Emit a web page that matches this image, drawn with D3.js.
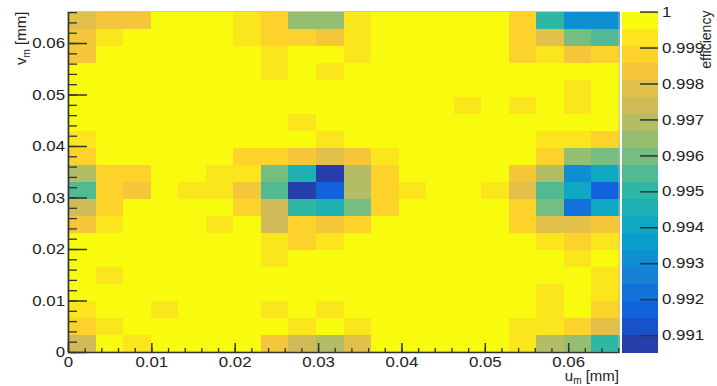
<!DOCTYPE html>
<html>
<head>
<meta charset="utf-8">
<script src="https://cdn.jsdelivr.net/npm/d3@7"></script>
<style>
  body { margin: 0; background: #fff; }
  svg { display: block; font-family: "Liberation Sans", Arial, sans-serif; }
  .tick text { fill: #222; }
  .tick line, .domain { stroke: #333; }
</style>
</head>
<body>
<svg id="chart" width="717" height="386"></svg>
<script>
// axis ranges (mm) and z range of the colour scale
const uRange = [0, 0.0661]
const vRange = [0, 0.0661]
const zRange = [0.99053, 1.0]

const uTicks = [0, 0.01, 0.02, 0.03, 0.04, 0.05, 0.06]
const vTicks = [0, 0.01, 0.02, 0.03, 0.04, 0.05, 0.06]
const zTicks = [0.991, 0.992, 0.993, 0.994, 0.995, 0.996, 0.997, 0.998, 0.999, 1]

const uTitle = "u"
const vTitle = "v"
const zTitle = "efficiency"

// efficiency per bin, top row (highest v) first, u increasing left to right
const efficiency = [
  [0.9978, 0.9985, 0.9985, 1, 1, 1, 0.9993, 0.9988, 0.9965, 0.9965, 0.9993, 1, 1, 1, 1, 1, 0.9988, 0.9950, 0.9932, 0.9932],
  [0.9985, 0.9993, 1, 1, 1, 1, 0.9993, 0.9988, 0.9988, 0.9984, 0.9993, 1, 1, 1, 1, 1, 0.9988, 0.9978, 0.9960, 0.9955],
  [0.9985, 1, 1, 1, 1, 1, 1, 0.9993, 1, 1, 0.9993, 1, 1, 1, 1, 1, 0.9988, 0.9992, 0.9984, 0.9987],
  [1, 1, 1, 1, 1, 1, 1, 0.9993, 1, 0.9993, 1, 1, 1, 1, 1, 1, 1, 1, 1, 1],
  [1, 1, 1, 1, 1, 1, 1, 1, 1, 1, 1, 1, 1, 1, 1, 1, 1, 1, 0.9993, 1],
  [1, 1, 1, 1, 1, 1, 1, 1, 1, 1, 1, 1, 1, 1, 0.9993, 1, 0.9993, 1, 0.9993, 1],
  [1, 1, 1, 1, 1, 1, 1, 1, 0.9993, 1, 1, 1, 1, 1, 1, 1, 1, 1, 1, 1],
  [0.9993, 1, 1, 1, 1, 1, 1, 1, 1, 0.9993, 1, 1, 1, 1, 1, 1, 1, 0.9993, 0.9993, 0.9987],
  [0.9988, 1, 1, 1, 1, 1, 0.9988, 0.9988, 0.9985, 0.9979, 0.9985, 0.9992, 1, 1, 1, 1, 1, 0.9988, 0.9965, 0.9960],
  [0.9969, 0.9989, 0.9989, 1, 1, 0.9993, 0.9993, 0.9958, 0.9946, 0.9906, 0.9970, 0.9988, 1, 1, 1, 1, 0.9985, 0.9971, 0.9930, 0.9941],
  [0.9955, 0.9988, 0.9985, 1, 0.9993, 0.9993, 0.9985, 0.9956, 0.9906, 0.9919, 0.9969, 0.9986, 0.9992, 1, 1, 0.9992, 0.9979, 0.9956, 0.9941, 0.9919],
  [0.9975, 0.9988, 1, 1, 1, 1, 0.9986, 0.9975, 0.9949, 0.9946, 0.9960, 0.9986, 1, 1, 1, 1, 0.9987, 0.9960, 0.9923, 0.9941],
  [0.9985, 0.9991, 1, 1, 1, 0.9993, 1, 0.9975, 0.9987, 0.9982, 0.9987, 1, 1, 1, 1, 1, 0.9988, 0.9979, 0.9979, 0.9984],
  [1, 1, 1, 1, 1, 1, 1, 0.9992, 0.9987, 0.9992, 1, 1, 1, 1, 1, 1, 1, 0.9992, 0.9987, 0.9992],
  [1, 1, 1, 1, 1, 1, 1, 0.9993, 1, 1, 1, 1, 1, 1, 1, 1, 1, 1, 0.9993, 1],
  [1, 0.9993, 1, 1, 1, 1, 1, 1, 1, 1, 1, 1, 1, 1, 1, 1, 1, 1, 1, 0.9993],
  [1, 1, 1, 1, 1, 1, 1, 1, 1, 1, 1, 1, 1, 1, 1, 1, 1, 0.9993, 1, 0.9993],
  [0.9992, 1, 1, 0.9993, 1, 1, 1, 0.9993, 1, 0.9993, 1, 1, 1, 1, 1, 1, 1, 0.9993, 1, 0.9987],
  [0.9987, 0.9993, 1, 1, 1, 1, 1, 1, 0.9993, 1, 0.9993, 1, 1, 1, 1, 1, 0.9993, 0.9993, 0.9987, 0.9979],
  [0.9976, 1, 0.9993, 1, 1, 1, 1, 0.9985, 0.9976, 0.9969, 0.9978, 1, 1, 1, 1, 1, 0.9993, 0.9968, 0.9963, 0.9951]
]

// ROOT "bird" palette
const birdStops = [0, 0.125, 0.25, 0.375, 0.5, 0.625, 0.75, 0.875, 1]
const birdColors = ["#352a87", "#0f5cdd", "#1481d6", "#06a4ca", "#2eb7a4", "#87bf77", "#d1bb59", "#fec832", "#f9fb0e"]
const nContours = 20

const svg = d3.select("#chart")
const frame = {left: 68, right: 619, top: 11.6, bottom: 352}
const bar = {left: 622, right: 658}
const stretch = 1.16   // the source picture is a bit wider than tall

const nu = efficiency[0].length
const nv = efficiency.length

const x = d3.scaleLinear().domain(uRange).range([frame.left, frame.right])
const y = d3.scaleLinear().domain(vRange).range([frame.bottom, frame.top])
const xBin = d3.scaleBand().domain(d3.range(nu)).range([frame.left, frame.right])
const yBin = d3.scaleBand().domain(d3.range(nv)).range([frame.top, frame.bottom])  // row 0 = top
const z = d3.scaleLinear().domain(zRange).range([frame.bottom, frame.top])

const bird = d3.scaleLinear().domain(birdStops).range(birdColors).interpolate(d3.interpolateRgb)
const level = d3.scaleQuantize().domain(zRange).range(d3.range(nContours))
const levelColor = k => bird(Math.min(1, (k + 0.99) / nContours))

// widen horizontal labels like the source
function widen(sel) {
    sel.each(function() {
        let w = this.getComputedTextLength()
        d3.select(this).attr("textLength", w * stretch).attr("lengthAdjust", "spacingAndGlyphs")
    })
}

// cells
let cells = []
efficiency.forEach((row, r) => row.forEach((val, c) => cells.push({r: r, c: c, val: val})))

svg.append("g")
    .attr("shape-rendering", "crispEdges")
    .selectAll("rect")
    .data(cells)
    .join("rect")
    .attr("x", d => xBin(d.c))
    .attr("y", d => yBin(d.r))
    .attr("width", xBin.bandwidth() + 0.5)
    .attr("height", yBin.bandwidth() + 0.5)
    .attr("fill", d => levelColor(level(d.val)))

// thin frame on top/right
svg.append("rect")
    .attr("x", frame.left).attr("y", frame.top)
    .attr("width", frame.right - frame.left).attr("height", frame.bottom - frame.top)
    .attr("fill", "none").attr("stroke", "#bbb").attr("stroke-width", 0.8)

const fmt = d => d === 0 ? "0" : d3.format(".2f")(d)
const minorU = d3.range(0, uRange[1] + 1e-9, 0.002)
const minorV = d3.range(0, vRange[1] + 1e-9, 0.002)

// x axis: ticks pointing up into the frame
svg.append("g")
    .attr("transform", `translate(0, ${frame.bottom})`)
    .call(d3.axisBottom(x).tickValues(minorU).tickSize(-4).tickSizeOuter(0).tickFormat(""))
    .call(g => g.selectAll("line").attr("stroke-width", 1.3))
    .call(g => g.select(".domain").attr("stroke-width", 1.6))

svg.append("g")
    .attr("transform", `translate(0, ${frame.bottom})`)
    .call(d3.axisBottom(x).tickValues(uTicks).tickSize(-9).tickSizeOuter(0).tickPadding(5).tickFormat(fmt))
    .call(g => g.select(".domain").remove())
    .call(g => g.selectAll("line").attr("stroke-width", 1.5))
    .call(g => g.selectAll("text").attr("font-size", 14.5).attr("font-family", null).call(widen))

// y axis: ticks pointing right into the frame
svg.append("g")
    .attr("transform", `translate(${frame.left}, 0)`)
    .call(d3.axisLeft(y).tickValues(minorV).tickSize(-9).tickSizeOuter(0).tickFormat(""))
    .call(g => g.selectAll("line").attr("stroke-width", 1.3))
    .call(g => g.select(".domain").attr("stroke-width", 1.6))

svg.append("g")
    .attr("transform", `translate(${frame.left}, 0)`)
    .call(d3.axisLeft(y).tickValues(vTicks).tickSize(-19).tickSizeOuter(0).tickPadding(3).tickFormat(fmt))
    .call(g => g.select(".domain").remove())
    .call(g => g.selectAll("line").attr("stroke-width", 1.5))
    .call(g => g.selectAll("text").attr("font-size", 14.5).attr("font-family", null).call(widen))

// colour bar
svg.append("g")
    .attr("shape-rendering", "crispEdges")
    .selectAll("rect")
    .data(d3.range(nContours))
    .join("rect")
    .attr("x", bar.left)
    .attr("width", bar.right - bar.left)
    .attr("y", k => z(level.invertExtent(k)[1]))
    .attr("height", k => z(level.invertExtent(k)[0]) - z(level.invertExtent(k)[1]) + 0.5)
    .attr("fill", k => levelColor(k))

svg.append("g")
    .attr("transform", `translate(${bar.right}, 0)`)
    .call(d3.axisRight(z).tickValues(zTicks).tickSize(-18).tickSizeOuter(0).tickPadding(4)
        .tickFormat(d => d === 1 ? "1" : d3.format(".3f")(d)))
    .call(g => g.select(".domain").remove())
    .call(g => g.selectAll("line").attr("stroke-width", 1.5))
    .call(g => g.selectAll("text").attr("font-size", 14.5).attr("font-family", null).call(widen))

// axis titles
const vt = svg.append("text")
    .attr("transform", `translate(26, ${frame.top}) rotate(-90)`)
    .attr("text-anchor", "end")
    .attr("font-size", 15)
    .attr("fill", "#222")
vt.append("tspan").text(vTitle)
vt.append("tspan").attr("font-size", 10).attr("dy", 4).text("m")
vt.append("tspan").attr("dy", -4).text(" [mm]")

const ut = svg.append("text")
    .attr("x", frame.right)
    .attr("y", 381)
    .attr("text-anchor", "end")
    .attr("font-size", 15)
    .attr("fill", "#222")
ut.append("tspan").text(uTitle)
ut.append("tspan").attr("font-size", 10).attr("dy", 3).text("m")
ut.append("tspan").attr("dy", -3).text(" [mm]")

svg.append("text")
    .attr("transform", `translate(711, ${frame.top - 1}) rotate(-90)`)
    .attr("text-anchor", "end")
    .attr("font-size", 14)
    .attr("fill", "#222")
    .text(zTitle)
</script>
</body>
</html>
